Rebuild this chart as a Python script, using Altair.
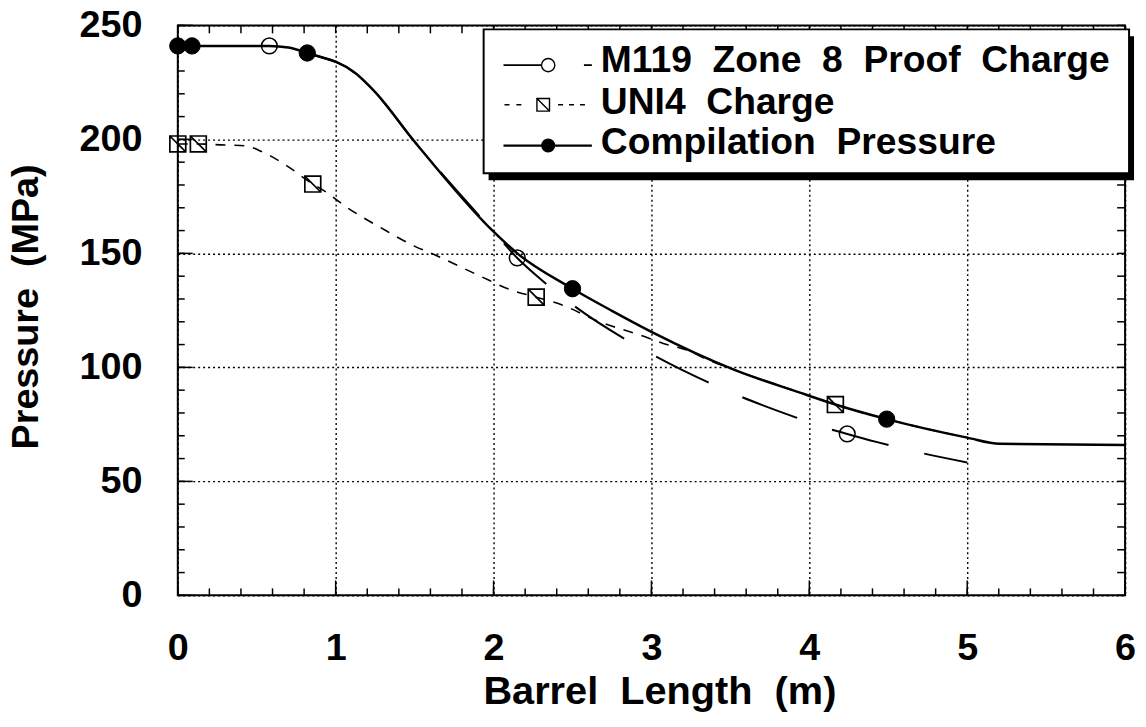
import altair as alt
import pandas as pd

# ---------------- data ----------------
NB = " \u00a0"  # wide word gap as in the original lettering
series_names = [NB.join(["M119", "Zone", "8", "Proof", "Charge"]),
                NB.join(["UNI4", "Charge"]),
                NB.join(["Compilation", "Pressure"])]
x_title = NB.join(["Barrel", "Length", "(m)"])
y_title = NB.join(["Pressure", "(MPa)"])

# M119 Zone 8 Proof Charge (long-dashed line, open circles)
m119_x = [0, 0.58, 0.7, 0.82, 1.13, 1.24, 1.5, 2.0, 2.15, 2.31, 2.5, 2.83, 3.03, 3.36, 3.565, 3.9, 4.08, 4.24, 4.43, 4.625, 5.0]
m119_y = [241, 241, 240.3, 237.9, 228.8, 221.5, 199, 159.5, 148, 138, 127.5, 112.5, 104.7, 93.4, 87.2, 78.4, 74, 70.8, 67.2, 63.8, 58.3]
m119_px = [0.58, 2.15, 4.24]
m119_py = [241, 148, 70.8]

# UNI4 Charge (short-dashed line, squares with a diagonal)
uni4_x = [0, 0.13, 0.27, 0.43, 0.53, 0.68, 0.855, 0.93, 1.075, 1.285, 1.495, 1.64, 1.91, 2.12, 2.27, 2.44,
          2.65, 2.96, 3.075, 3.25, 3.34, 3.53, 3.985, 4.165, 4.49, 5.0]
uni4_y = [198, 198, 197.6, 197.2, 194.7, 188.9, 180.4, 177.3, 170, 161.3, 153.3, 149, 140.2, 133.7, 130.8, 127.2,
          120.6, 113.4, 110.5, 106.9, 103.9, 98.8, 87.9, 83.7, 77.3, 69.2]
uni4_px = [0, 0.13, 0.855, 2.27, 4.165]
uni4_py = [198, 198, 180.4, 130.8, 83.7]

# Compilation Pressure (solid line, filled circles)
comp_x = [0, 0.58, 0.7, 0.82, 1.13, 1.24, 1.5, 2.0, 2.15, 2.5, 2.75, 3.0, 3.53, 3.985, 4.165, 4.49, 5.0, 5.205, 6.0]
comp_y = [241, 241, 240.3, 237.9, 228.8, 221.5, 199, 159.5, 150, 134.5, 124.8, 115.6, 98.8, 87.9, 83.7, 77.3, 69.2, 66.5, 66]
comp_px = [0, 0.09, 0.82, 2.5, 4.49]
comp_py = [241, 241, 237.9, 134.5, 77.3]

x_major = [0, 1, 2, 3, 4, 5, 6]
y_major = [0, 50, 100, 150, 200, 250]
x_minor = [round(0.2 * i, 1) for i in range(31)]
y_minor = list(range(0, 251, 10))

# ---------------- styling ----------------
FONT = "Liberation Sans"
W, H = 954, 574
X_SCALE = alt.Scale(domain=[0, 6], nice=False, zero=False)
Y_SCALE = alt.Scale(domain=[0, 250], nice=False, zero=False)
SQUARE_DIAG = "M-1,-1L1,-1L1,1L-1,1Z M-1,-1L1,1"


def df(xs, ys):
    return pd.DataFrame({"x": xs, "y": ys})


main_x_axis = alt.Axis(orient="bottom", values=x_major, format="d", grid=True, gridDash=[2, 3],
                       gridColor="black", gridWidth=1.4, gridOpacity=1, ticks=False, tickSize=0,
                       domain=False, labelFont=FONT, labelFontSize=38, labelFontWeight="bold",
                       labelColor="black", labelPadding=35, labelFlush=False, labelOverlap=False,
                       title=x_title, titleFont=FONT, titleFontSize=40,
                       titleFontWeight="bold", titleColor="black", titleX=485, titleY=109,
                       titleBaseline="alphabetic")
main_y_axis = alt.Axis(orient="left", values=y_major, format="d", grid=True, gridDash=[2, 3],
                       gridColor="black", gridWidth=1.4, gridOpacity=1, ticks=False, tickSize=0,
                       domain=False, labelFont=FONT, labelFontSize=38, labelFontWeight="bold",
                       labelColor="black", labelPadding=36, labelFlush=False, labelOverlap=False,
                       title=y_title, titleFont=FONT, titleFontSize=38,
                       titleFontWeight="bold", titleColor="black", titleX=-141, titleY=283,
                       titleBaseline="alphabetic", titleAngle=270)


def enc(axis_x=None, axis_y=None):
    return dict(x=alt.X("x:Q", scale=X_SCALE, axis=axis_x),
                y=alt.Y("y:Q", scale=Y_SCALE, axis=axis_y))


# inward tick marks on the frame, drawn through the shared scales
def xticks(values, y0, y1):
    return alt.Chart(pd.DataFrame({"x": values})).mark_rule(color="black", strokeWidth=1.5).encode(
        x=alt.X("x:Q", scale=X_SCALE, axis=None), y=alt.value(y0), y2=alt.value(y1))


def yticks(values, x0, x1):
    return alt.Chart(pd.DataFrame({"y": values})).mark_rule(color="black", strokeWidth=1.5).encode(
        y=alt.Y("y:Q", scale=Y_SCALE, axis=None), x=alt.value(x0), x2=alt.value(x1))


tick_layers = [
    xticks(x_minor, H - 7, H), xticks(x_major, H - 15, H), xticks(x_minor, 0, 8),
    yticks(y_minor, 0, 7), yticks(y_major, 0, 15), yticks(y_minor, W - 8, W),
]

uni4_line = alt.Chart(df(uni4_x, uni4_y)).mark_line(
    color="black", strokeWidth=1.6, strokeDash=[10, 9], interpolate="monotone"
).encode(**enc())

m119_line = alt.Chart(df(m119_x, m119_y)).mark_line(
    color="black", strokeWidth=2, strokeDash=[59, 37], strokeDashOffset=68, interpolate="monotone"
).encode(**enc())

comp_line = alt.Chart(df(comp_x, comp_y)).mark_line(
    color="black", strokeWidth=2.5, interpolate="monotone"
).encode(**enc(main_x_axis, main_y_axis))

uni4_pts = alt.Chart(df(uni4_px, uni4_py)).mark_point(
    shape=SQUARE_DIAG, size=256, filled=False, stroke="black", strokeWidth=1.7, opacity=1
).encode(**enc())

m119_pts = alt.Chart(df(m119_px, m119_py)).mark_point(
    shape="circle", size=250, filled=False, stroke="black", strokeWidth=1.5, opacity=1
).encode(**enc())

comp_pts = alt.Chart(df(comp_px, comp_py)).mark_point(
    shape="circle", size=270, filled=True, fill="black", stroke="black", strokeWidth=1, opacity=1
).encode(**enc())

# ---------------- legend (box with drop shadow) ----------------
one = pd.DataFrame({"k": [0]})
BX0, BX1, BY0, BY1 = 308, 958, 4, 149
legend_layers = [
    alt.Chart(one).mark_rect(color="black").encode(
        x=alt.value(BX0 + 5), x2=alt.value(BX1 + 5), y=alt.value(BY0 + 7), y2=alt.value(BY1 + 7)),
    alt.Chart(one).mark_rect(fill="white", stroke="black", strokeWidth=2).encode(
        x=alt.value(BX0), x2=alt.value(BX1), y=alt.value(BY0), y2=alt.value(BY1)),
]
row_text_y = [47, 89, 130]
row_sym_y = [40, 80, 121]
TX = 426
for name, ty in zip(series_names, row_text_y):
    legend_layers.append(
        alt.Chart(one).mark_text(align="left", baseline="alphabetic", font=FONT, fontSize=37.5,
                                 fontWeight="bold", color="black").encode(
            x=alt.value(TX), y=alt.value(ty), text=alt.value(name)))

# M119 symbol: line, open circle, short dash
sy = row_sym_y[0]
legend_layers += [
    alt.Chart(one).mark_rule(color="black", strokeWidth=1.8).encode(
        x=alt.value(328), x2=alt.value(366), y=alt.value(sy)),
    alt.Chart(one).mark_point(shape="circle", size=180, filled=False, stroke="black",
                              strokeWidth=1.4, opacity=1).encode(x=alt.value(373), y=alt.value(sy)),
    alt.Chart(one).mark_rule(color="black", strokeWidth=1.8).encode(
        x=alt.value(409), x2=alt.value(417), y=alt.value(sy)),
]
# UNI4 symbol: dashes, square with diagonal, dashes
sy = row_sym_y[1]
legend_layers += [
    alt.Chart(one).mark_rule(color="black", strokeWidth=1.5, strokeDash=[5, 7]).encode(
        x=alt.value(329), x2=alt.value(347), y=alt.value(sy)),
    alt.Chart(one).mark_point(shape=SQUARE_DIAG, size=160, filled=False, stroke="black",
                              strokeWidth=1.4, opacity=1).encode(x=alt.value(368), y=alt.value(sy)),
    alt.Chart(one).mark_rule(color="black", strokeWidth=1.5, strokeDash=[5, 6]).encode(
        x=alt.value(383), x2=alt.value(414), y=alt.value(sy)),
]
# Compilation symbol: solid line, filled circle
sy = row_sym_y[2]
legend_layers += [
    alt.Chart(one).mark_rule(color="black", strokeWidth=2.2).encode(
        x=alt.value(328), x2=alt.value(417), y=alt.value(sy)),
    alt.Chart(one).mark_point(shape="circle", size=200, filled=True, fill="black",
                              opacity=1).encode(x=alt.value(373), y=alt.value(sy)),
]

chart = alt.layer(
    *tick_layers, uni4_line, m119_line, comp_line, uni4_pts, m119_pts, comp_pts, *legend_layers
).resolve_axis(
    x="independent", y="independent"
).properties(
    width=W, height=H,
    autosize=alt.AutoSizeParams(type="none"),
    padding={"left": 171, "top": 15, "right": 13, "bottom": 123},
    background="white",
).configure_view(stroke="black", strokeWidth=2)

chart.save("out.html", embed_options={"renderer": "svg", "actions": False})
